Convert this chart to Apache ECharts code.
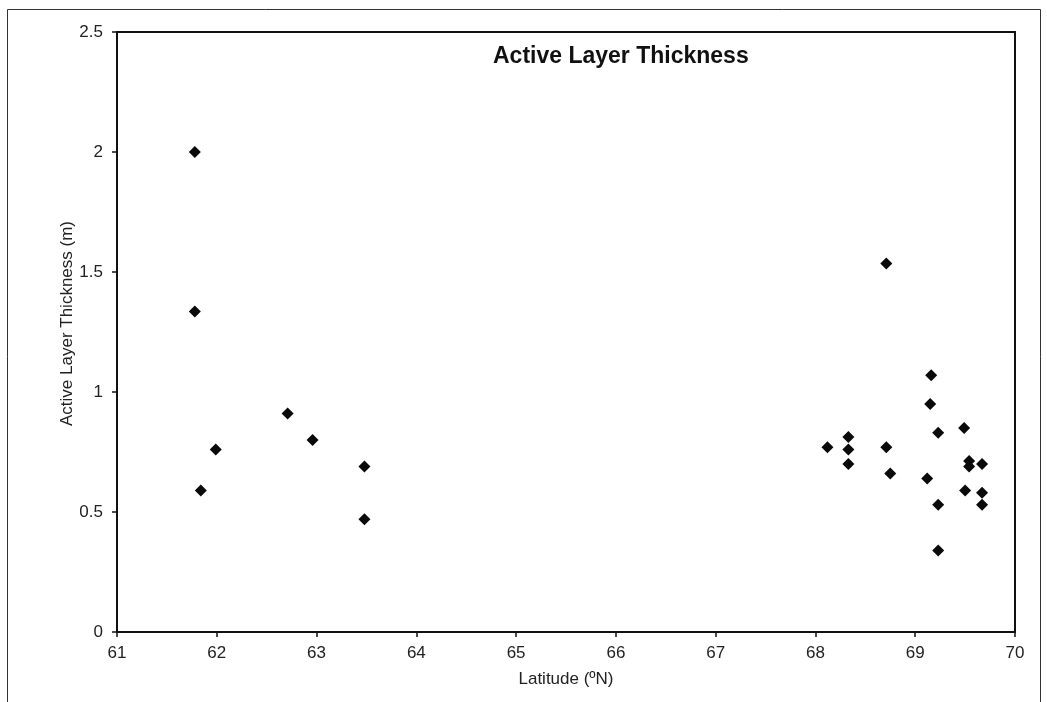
<!DOCTYPE html>
<html>
<head>
<meta charset="utf-8">
<script src="https://cdn.jsdelivr.net/npm/echarts@6/dist/echarts.min.js"></script>
<style>
html,body{margin:0;padding:0;background:#fff;}
#chart{width:1047px;height:702px;}
</style>
</head>
<body>
<div id="chart"></div>
<script>
const titleText = 'Active Layer Thickness';
const xAxisName = 'Latitude (ºN)';
const yAxisName = 'Active Layer Thickness (m)';
const latitude = [61.78, 61.78, 61.84, 61.99, 62.71, 62.96, 63.48, 63.48,
  68.12, 68.33, 68.33, 68.33, 68.71, 68.71, 68.75, 69.12, 69.16, 69.15,
  69.23, 69.23, 69.23, 69.49, 69.50, 69.54, 69.54, 69.67, 69.67, 69.67];
const thickness = [2.00, 1.335, 0.59, 0.76, 0.91, 0.80, 0.69, 0.47,
  0.77, 0.812, 0.76, 0.70, 1.535, 0.77, 0.66, 0.64, 1.07, 0.95,
  0.83, 0.53, 0.34, 0.85, 0.59, 0.713, 0.69, 0.70, 0.58, 0.53];

const points = latitude.map((x, i) => [x, thickness[i]]);
const FONT = '"Liberation Sans", Arial, sans-serif';

const chart = echarts.init(document.getElementById('chart'), null, {renderer: 'canvas'});
chart.setOption({
  backgroundColor: '#ffffff',
  animation: false,
  title: {
    text: titleText,
    left: 493,
    top: 45,
    padding: 0,
    textStyle: {fontFamily: FONT, fontSize: 23, fontWeight: 'bold', color: '#111'}
  },
  graphic: [{
    type: 'rect',
    shape: {x: 7.5, y: 9.5, width: 1033, height: 700},
    style: {fill: 'none', stroke: '#333', lineWidth: 1},
    silent: true
  }],
  grid: {
    left: 117, right: 32, top: 32, bottom: 70,
    show: true, borderColor: '#111', borderWidth: 2, backgroundColor: 'transparent'
  },
  xAxis: {
    type: 'value',
    min: 61, max: 70, interval: 1,
    name: xAxisName,
    nameLocation: 'middle',
    nameGap: 39,
    nameMoveOverlap: false,
    nameTextStyle: {fontFamily: FONT, fontSize: 17, color: '#222'},
    axisLine: {show: true, onZero: false, lineStyle: {color: '#111', width: 2}},
    axisTick: {show: true, inside: false, length: 5, lineStyle: {color: '#111', width: 1.5}},
    axisLabel: {fontFamily: FONT, fontSize: 17, color: '#222', margin: 13},
    splitLine: {show: false}
  },
  yAxis: {
    type: 'value',
    min: 0, max: 2.5, interval: 0.5,
    name: yAxisName,
    nameLocation: 'middle',
    nameGap: 41,
    nameMoveOverlap: false,
    nameTextStyle: {fontFamily: FONT, fontSize: 17, color: '#222', padding: [0, 0, 0, 17]},
    axisLine: {show: true, onZero: false, lineStyle: {color: '#111', width: 2}},
    axisTick: {show: true, inside: false, length: 5, lineStyle: {color: '#111', width: 1.5}},
    axisLabel: {fontFamily: FONT, fontSize: 17, color: '#222', margin: 14},
    splitLine: {show: false}
  },
  series: [{
    type: 'scatter',
    data: points,
    symbol: 'diamond',
    symbolSize: 12,
    itemStyle: {color: '#0a0a0a', opacity: 1}
  }]
});
</script>
</body>
</html>
